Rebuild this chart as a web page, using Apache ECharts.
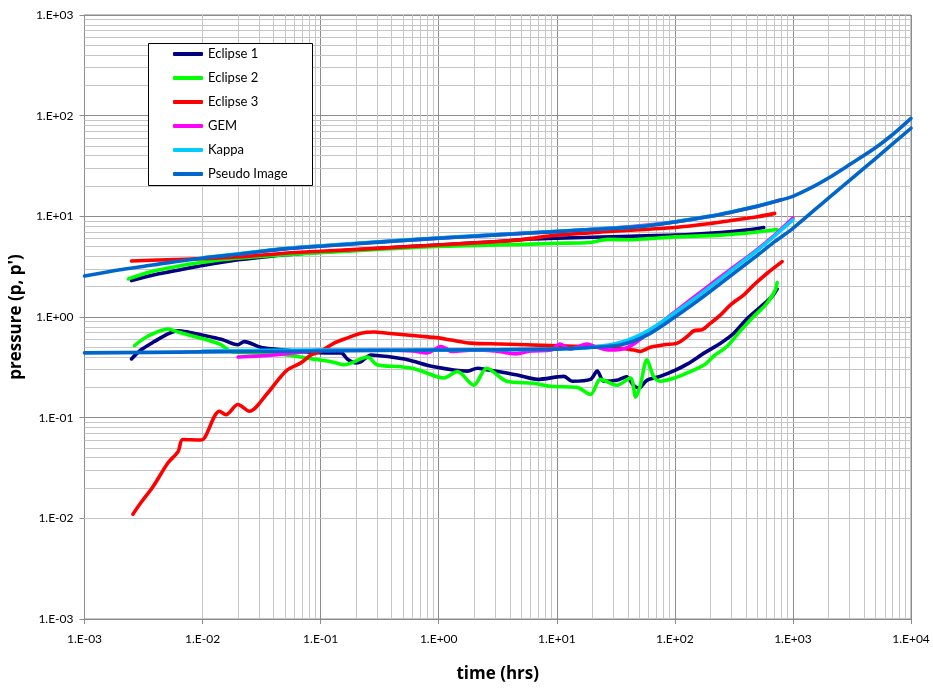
<!DOCTYPE html>
<html>
<head>
<meta charset="utf-8">
<script src="https://cdn.jsdelivr.net/npm/echarts/dist/echarts.min.js"></script>
<style>
  html, body { margin: 0; padding: 0; background: #ffffff; }
  #chart { width: 933px; height: 688px; }
</style>
</head>
<body>
<div id="chart"></div>
<script>
// Decade ticks of the two logarithmic axes
const xDecades = [0.001, 0.01, 0.1, 1, 10, 100, 1000, 10000];
const yDecades = [0.001, 0.01, 0.1, 1, 10, 100, 1000];

const seriesNames = ['Eclipse 1', 'Eclipse 2', 'Eclipse 3', 'GEM', 'Kappa', 'Pseudo Image'];
const seriesColors = ['#000080', '#00ff00', '#ff0000', '#ff00ff', '#00ccff', '#0066cc'];

// [time (hrs), value] — pressure curves (p) and derivative curves (p')
const eclipse1Pressure = [[0.0025,2.3],[0.004,2.65],[0.007,3.0],[0.01,3.25],[0.02,3.7],[0.04,4.05],[0.1,4.4],[0.3,4.8],[1,5.2],[3,5.6],[6,5.95],[10,6.05],[20,6.2],[42,6.35],[100,6.5],[244,6.9],[400,7.3],[566,7.75]];
const eclipse1Derivative = [[0.0025,0.383],[0.003,0.47],[0.0039,0.57],[0.0051,0.68],[0.0062,0.73],[0.0075,0.71],[0.0097,0.667],[0.0144,0.60],[0.0199,0.53],[0.0225,0.57],[0.031,0.50],[0.0404,0.48],[0.068,0.455],[0.12,0.44],[0.149,0.44],[0.169,0.38],[0.2,0.35],[0.22,0.36],[0.267,0.42],[0.394,0.40],[0.545,0.376],[0.914,0.32],[1.75,0.29],[2.13,0.31],[2.55,0.30],[4.64,0.265],[6.86,0.24],[11.5,0.257],[13.5,0.23],[19.3,0.24],[22,0.29],[25,0.23],[32,0.235],[39,0.255],[44.6,0.21],[49.5,0.197],[58,0.235],[75,0.257],[100,0.295],[127,0.34],[178,0.44],[244,0.55],[316,0.69],[414,0.975],[536,1.27],[650,1.55],[735,1.9]];

const eclipse2Pressure = [[0.00235,2.39],[0.00365,2.82],[0.007,3.28],[0.0097,3.48],[0.0185,3.81],[0.0353,4.05],[0.13,4.44],[0.86,5.0],[6,5.3],[10,5.4],[19,5.5],[27,5.9],[42,5.85],[60,6.0],[100,6.25],[244,6.5],[500,7.0],[735,7.4]];
const eclipse2Derivative = [[0.00265,0.52],[0.0034,0.64],[0.0051,0.76],[0.0062,0.71],[0.0085,0.64],[0.011,0.59],[0.0144,0.53],[0.0174,0.455],[0.0274,0.44],[0.0526,0.42],[0.0773,0.39],[0.123,0.36],[0.158,0.336],[0.25,0.40],[0.30,0.336],[0.48,0.32],[0.66,0.30],[1.11,0.248],[1.44,0.287],[1.98,0.21],[2.55,0.31],[3.77,0.23],[6.35,0.22],[8.8,0.205],[14.8,0.20],[19.3,0.17],[23.4,0.24],[32.4,0.21],[42,0.248],[46.7,0.16],[51,0.21],[58,0.376],[66,0.257],[75,0.23],[100,0.248],[127,0.278],[178,0.336],[214,0.41],[276,0.51],[356,0.72],[466,1.01],[605,1.37],[710,1.86],[735,2.2]];

const eclipse3Pressure = [[0.0025,3.6],[0.005,3.7],[0.01,3.8],[0.02,3.95],[0.05,4.3],[0.1,4.5],[0.3,4.8],[1,5.2],[3,5.6],[5,5.85],[10,6.5],[30,7.1],[60,7.45],[100,7.75],[200,8.5],[300,9.1],[500,9.9],[700,10.7]];
const eclipse3Derivative = [[0.00257,0.011],[0.003,0.0143],[0.0038,0.0206],[0.0051,0.0356],[0.0062,0.046],[0.0068,0.0607],[0.0097,0.060],[0.0104,0.063],[0.0139,0.116],[0.0158,0.107],[0.0199,0.135],[0.0249,0.116],[0.0356,0.176],[0.044,0.24],[0.0526,0.30],[0.068,0.35],[0.083,0.42],[0.10,0.455],[0.13,0.55],[0.169,0.62],[0.219,0.69],[0.284,0.71],[0.369,0.69],[0.51,0.667],[0.705,0.645],[1.0,0.62],[1.27,0.59],[1.87,0.55],[3.35,0.54],[8.87,0.52],[17,0.51],[25,0.51],[45,0.47],[51,0.455],[62,0.50],[81,0.53],[105,0.55],[127,0.64],[145,0.73],[171,0.75],[194,0.84],[244,1.05],[296,1.32],[384,1.66],[466,2.08],[605,2.72],[810,3.55]];

const gemPressure = [[0.02,4.22],[0.05,4.77],[0.1,5.07],[0.3,5.55],[1,6.07],[3,6.55],[10,7.07],[30,7.65],[100,8.8],[200,10.0],[500,12.6],[800,14.6]];
const gemDerivative = [[0.02,0.40],[0.04,0.42],[0.07,0.45],[0.1,0.47],[0.3,0.47],[0.6,0.46],[0.8,0.44],[1.05,0.51],[1.3,0.455],[2,0.47],[3,0.46],[4.5,0.43],[6,0.46],[9,0.47],[10.6,0.54],[13,0.48],[18,0.54],[22,0.5],[28,0.47],[40,0.5],[60,0.7],[100,1.12],[200,2.1],[300,3.0],[500,4.7],[700,6.5],[1000,9.6]];

const kappaPressure = [[0.01,3.88],[0.02,4.25],[0.05,4.8],[0.1,5.1],[0.2,5.4],[0.5,5.8],[1,6.1],[2,6.4],[5,6.8],[10,7.1],[20,7.45],[50,7.95],[100,8.85],[200,10.05],[300,11.05],[500,12.65],[700,14.05]];
const kappaDerivative = [[0.01,0.46],[0.1,0.47],[1,0.47],[10,0.48],[20,0.5],[35,0.56],[58,0.72],[100,1.1],[150,1.55],[200,2.0],[300,2.9],[500,4.6],[700,6.4],[1000,9.2]];

const pseudoPressure = [[0.001,2.56],[0.002,2.95],[0.003,3.15],[0.005,3.45],[0.01,3.84],[0.02,4.2],[0.03,4.45],[0.05,4.75],[0.1,5.05],[0.2,5.35],[0.5,5.75],[1,6.05],[2,6.35],[5,6.75],[10,7.05],[20,7.4],[50,7.9],[100,8.8],[200,10.0],[300,11.0],[500,12.6],[700,14.0],[1000,15.8],[1500,19.8],[2000,24],[3000,32.5],[5000,48],[7000,65],[10000,94]];
const pseudoDerivative = [[0.001,0.44],[0.01,0.45],[0.1,0.46],[1,0.47],[10,0.48],[20,0.5],[35,0.53],[58,0.66],[100,1.0],[150,1.4],[200,1.8],[300,2.6],[500,4.1],[700,5.6],[1000,7.6],[2000,15.2],[5000,37.5],[10000,75]];

const curvesByName = {
  'Eclipse 1': [eclipse1Pressure, eclipse1Derivative],
  'Eclipse 2': [eclipse2Pressure, eclipse2Derivative],
  'Eclipse 3': [eclipse3Pressure, eclipse3Derivative],
  'GEM': [gemPressure, gemDerivative],
  'Kappa': [kappaPressure, kappaDerivative],
  'Pseudo Image': [pseudoPressure, pseudoDerivative]
};

const FONT = 'Lato, "Liberation Sans", sans-serif';
const TITLE_FONT = '"Open Sans", Lato, sans-serif';

// Minor grid positions: 2..9 within each decade
function minorValues(decades) {
  const out = [];
  for (let i = 0; i < decades.length - 1; i++) {
    for (let k = 2; k <= 9; k++) out.push(k * decades[i]);
  }
  return out;
}
const minorX = minorValues(xDecades);
const minorY = minorValues(yDecades);

function expLabel(v) {
  const e = Math.round(Math.log10(v));
  const s = e < 0 ? '-' : '+';
  const a = Math.abs(e);
  return '1.E' + s + (a < 10 ? '0' + a : String(a));
}

const dataSeries = [];
seriesNames.forEach((name, i) => {
  curvesByName[name].forEach(curve => {
    dataSeries.push({
      name: name,
      type: 'line',
      data: curve,
      showSymbol: false,
      smooth: 0.3,
      z: 3,
      color: seriesColors[i],
      lineStyle: { width: 3.6, color: seriesColors[i], cap: 'round', join: 'round' },
      emphasis: { disabled: true },
      silent: true
    });
  });
});

const gridHelper = {
  type: 'line',
  data: [[1, 1]],
  showSymbol: false,
  lineStyle: { width: 0, opacity: 0 },
  silent: true,
  z: 1,
  markLine: {
    silent: true,
    z: 1,
    symbol: ['none', 'none'],
    label: { show: false },
    lineStyle: { type: 'solid', color: '#c6c6c6', width: 1 },
    emphasis: { disabled: true },
    animation: false,
    data: minorX.map(v => ({ xAxis: v })).concat(minorY.map(v => ({ yAxis: v })))
  }
};

const chart = echarts.init(document.getElementById('chart'), null, { renderer: 'canvas' });
chart.setOption({
  backgroundColor: '#ffffff',
  animation: false,
  textStyle: { fontFamily: FONT },
  grid: {
    left: 83, top: 15, width: 828, height: 605,
    show: true, borderColor: '#8c8c8c', borderWidth: 1, backgroundColor: 'transparent'
  },
  xAxis: {
    type: 'log', logBase: 10, min: xDecades[0], max: xDecades[xDecades.length - 1],
    name: 'time (hrs)', nameLocation: 'middle', nameGap: 47,
    nameTextStyle: { fontFamily: TITLE_FONT, fontSize: 17, fontWeight: 'bold', color: '#000' },
    axisLine: { show: true, lineStyle: { color: '#8c8c8c', width: 1 } },
    axisTick: { show: true, inside: false, length: 5, lineStyle: { color: '#8c8c8c' } },
    axisLabel: { color: '#000', fontSize: 12, fontFamily: FONT, margin: 14, formatter: expLabel },
    splitLine: { show: true, lineStyle: { color: '#8c8c8c', width: 1 } },
    minorTick: { show: false }, minorSplitLine: { show: false }
  },
  yAxis: {
    type: 'log', logBase: 10, min: yDecades[0], max: yDecades[yDecades.length - 1],
    name: "pressure (p, p')", nameLocation: 'middle', nameGap: 55, nameRotate: 90,
    nameTextStyle: { fontFamily: TITLE_FONT, fontSize: 17, fontWeight: 'bold', color: '#000' },
    axisLine: { show: true, lineStyle: { color: '#8c8c8c', width: 1 } },
    axisTick: { show: true, inside: false, length: 5, lineStyle: { color: '#8c8c8c' } },
    axisLabel: { color: '#000', fontSize: 12, fontFamily: FONT, margin: 11, formatter: expLabel },
    splitLine: { show: true, lineStyle: { color: '#8c8c8c', width: 1 } },
    minorTick: { show: false }, minorSplitLine: { show: false }
  },
  legend: {
    data: seriesNames,
    orient: 'vertical',
    left: 173, top: 47,
    padding: 0,
    itemWidth: 30, itemHeight: 4, itemGap: 10,
    icon: 'roundRect',
    z: 21,
    selectedMode: false,
    textStyle: { color: '#000', fontSize: 13, fontFamily: FONT, lineHeight: 14 }
  },
  graphic: [{
    type: 'rect', z: 20, silent: true,
    shape: { x: 148.5, y: 43.5, width: 164, height: 142 },
    style: { fill: '#ffffff', stroke: '#000000', lineWidth: 1 }
  }],
  series: [gridHelper].concat(dataSeries)
});
</script>
</body>
</html>
